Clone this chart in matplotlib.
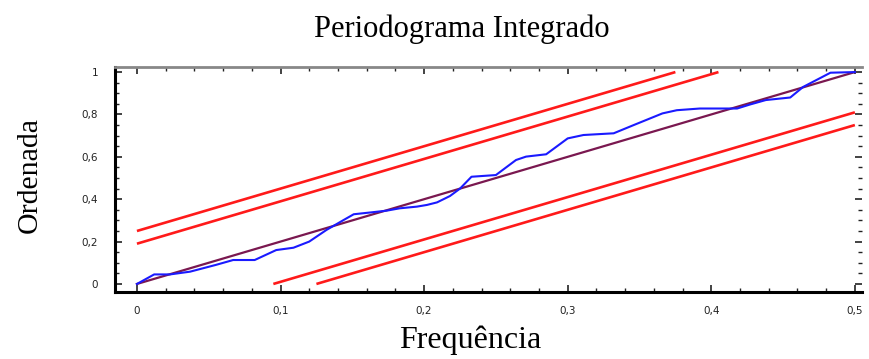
import numpy as np
import matplotlib.pyplot as plt
from matplotlib.ticker import MultipleLocator, FuncFormatter

# integrated periodogram (cumulative, normalised)
freq = [0, 0.012, 0.023, 0.037, 0.055, 0.067, 0.082, 0.097, 0.109, 0.12,
        0.132, 0.144, 0.151, 0.162, 0.174, 0.183, 0.195, 0.202, 0.209, 0.218,
        0.225, 0.233, 0.25, 0.264, 0.271, 0.285, 0.30, 0.311, 0.332, 0.346,
        0.366, 0.376, 0.392, 0.418, 0.427, 0.438, 0.455, 0.464, 0.483, 0.5]
cumper = [0, 0.045, 0.045, 0.058, 0.09, 0.113, 0.113, 0.16, 0.171, 0.2,
          0.255, 0.302, 0.329, 0.337, 0.346, 0.357, 0.365, 0.373, 0.385, 0.415,
          0.45, 0.506, 0.514, 0.585, 0.601, 0.612, 0.687, 0.703, 0.711, 0.75,
          0.805, 0.82, 0.828, 0.828, 0.847, 0.868, 0.88, 0.93, 0.997, 1.0]

# white-noise reference line and Kolmogorov-Smirnov bands
ref_x = [0, 0.5]
ref_y = [0, 1]
band_offsets = [0.19, 0.25]

plt.rcParams['font.family'] = ['Liberation Serif', 'DejaVu Serif']

fig = plt.figure(figsize=(8.69, 3.59), dpi=100)
ax = fig.add_axes([0.1323, 0.1866, 0.8597, 0.6268])

red = '#ff1a1a'
for c in band_offsets:
    # upper band: y = 2x + c, cut where it reaches 1
    xu = np.array([0, (1 - c) / 2])
    ax.plot(xu, 2 * xu + c, color=red, lw=1.9, solid_capstyle='butt')
    # lower band: y = 2x - c, starts where it leaves 0
    xl = np.array([c / 2, 0.5])
    ax.plot(xl, 2 * xl - c, color=red, lw=1.9, solid_capstyle='butt')

ax.plot(ref_x, ref_y, color='#7a1850', lw=1.6)
ax.plot(freq, cumper, color='#1a1aff', lw=1.5)

ax.set_xlim(-0.0153, 0.505)
ax.set_ylim(-0.038, 1.024)

ax.xaxis.set_major_locator(MultipleLocator(0.1))
ax.xaxis.set_minor_locator(MultipleLocator(0.02))
ax.yaxis.set_major_locator(MultipleLocator(0.2))
ax.yaxis.set_minor_locator(MultipleLocator(0.05))

comma = FuncFormatter(lambda v, p: ('%g' % round(v, 2)).replace('.', ','))
ax.xaxis.set_major_formatter(comma)
ax.yaxis.set_major_formatter(comma)

ax.tick_params(which='both', direction='in', top=True, right=True,
               labelsize=7.5, labelfontfamily='DejaVu Sans', colors='#222222')
ax.tick_params(which='major', length=5, width=1.2)
ax.tick_params(which='minor', length=3, width=1)
ax.tick_params(axis='x', pad=10)
ax.tick_params(axis='y', pad=12)

for s in ['left', 'bottom']:
    ax.spines[s].set_linewidth(2.2)
ax.spines['top'].set_color('#888888')
ax.spines['top'].set_linewidth(2)
ax.spines['right'].set_visible(False)

fig.text(0.532, 0.918, 'Periodograma Integrado', ha='center', va='center',
         fontsize=22)
fig.text(0.541, 0.053, 'Frequência', ha='center', va='center', fontsize=23)
fig.text(0.0345, 0.5125, 'Ordenada', ha='center', va='center', fontsize=21.5,
         rotation=90)

fig.savefig('out.png', dpi=100)
